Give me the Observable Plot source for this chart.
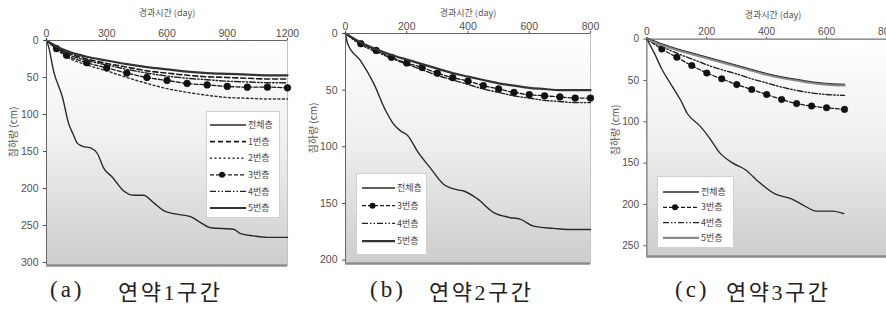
<!DOCTYPE html>
<html><head><meta charset="utf-8">
<script src="https://cdn.jsdelivr.net/npm/d3@7"></script>
<script src="https://cdn.jsdelivr.net/npm/@observablehq/plot@0.6"></script>
<style>
body{margin:0;background:#fff;}
#wrap{position:relative;width:886px;height:312px;overflow:hidden;font-family:"Noto Sans CJK KR","Liberation Sans",sans-serif;}
.panel{position:absolute;top:0;}
.xt{position:absolute;font-size:9px;color:#555;white-space:nowrap;transform:translate(-50%,-50%);}
.yt{position:absolute;font-size:10px;color:#555;white-space:nowrap;transform:translate(-50%,-50%) rotate(-90deg);}
.cap{position:absolute;top:290px;font-size:22px;color:#222;white-space:pre;transform:translateY(-50%);font-family:"Liberation Serif","DejaVu Serif","Noto Sans CJK KR",serif;}
.paren{letter-spacing:3px;font-size:23px;}
.kor{letter-spacing:2.5px;}
.leg{position:absolute;background:#fff;border:1px solid #d0d0d0;}
.leg svg{display:block;}
</style></head>
<body>
<svg width="0" height="0" style="position:absolute">
<defs>
<linearGradient id="bg" x1="0" y1="0" x2="0" y2="1">
<stop offset="0" stop-color="#ffffff"/><stop offset="0.45" stop-color="#f0f0f0"/><stop offset="1" stop-color="#cdcdcd"/>
</linearGradient>
</defs></svg>
<div id="wrap"></div>
<script>
// ---------- Data ----------
const xLabel = "경과시간 (day)";
const yLabel = "침하량 (cm)";
const capParens = ["(a)", "(b)", "(c)"];
const capNames = ["연약1구간", "연약2구간", "연약3구간"];

// Panel (a) 연약1구간
const ticksXA = [0, 300, 600, 900, 1200];
const ticksYA = [0, 50, 100, 150, 200, 250, 300];
const daysTotA = [0,10,35,80,110,130,154,180,219,254,284,329,383,433,483,533,583,632,717,767,817,931,966,1031,1100,1200];
const totA     = [0,8,41,77,112,125,139,143,145,153,172,185,203,209,209,219,230,234,238,246,253,255,261,264,266,266];
const daysA = [0,50,100,200,300,400,500,600,700,800,900,1000,1100,1200];
const a1 = [0,9,16,25,31,36,41,44,47,49,50,51,52,52];
const a2 = [0,12,22,33,41,50,58,65,70,74,77,78,79,79];
const a3 = [0,11,20,30,37,44,50,54,58,60,62,63,63,64];
const a4 = [0,10,18,27,33,39,44,48,51,53,55,56,57,57];
const a5 = [0,8,14,22,27,32,36,39,42,44,45,46,47,47];

// Panel (b) 연약2구간
const ticksXB = [0, 200, 400, 600, 800];
const ticksYB = [0, 50, 100, 150, 200];
const daysTotB = [0,7,49,92,131,157,180,203,235,278,320,366,386,431,484,529,572,614,680,725,800];
const totB     = [0,9,24,44,68,80,86,90,104,119,133,138,139,146,158,162,164,170,172,173,173];
const daysB = [0,50,100,150,200,250,300,350,400,450,500,550,600,650,700,750,800];
const b3 = [0,9,15,21,26,30,35,39,42,46,49,52,54,55,56,57,57];
const b4 = [0,10,16,22,27,32,37,41,45,49,52,55,57,59,60,61,61];
const b5 = [0,8,14,19,23,27,31,35,38,41,44,46,48,49,50,50,50];

// Panel (c) 연약3구간
const ticksXC = [0, 200, 400, 600, 800];
const ticksYC = [0, 50, 100, 150, 200, 250];
const daysTotC = [0,29,48,81,113,135,177,210,242,287,329,371,426,481,523,565,619,658];
const totC     = [0,20,35,55,74,90,105,120,137,150,158,172,187,193,201,208,208,211];
const daysC = [0,50,100,150,200,250,300,350,400,450,500,550,600,660];
const c3 = [0,12,22,32,41,48,55,61,67,73,78,81,83,85];
const c4 = [0,9,17,24,31,37,42,48,53,58,62,65,67,68];
const c5 = [0,7,13,18,23,28,33,38,43,47,50,53,55,56];

// ---------- Styles per layer ----------
const styles = {
  "전체층": {stroke:"#2a2a2a", strokeWidth:1.4, dash:null},
  "1번층": {stroke:"#1a1a1a", strokeWidth:1.6, dash:"5,3"},
  "2번층": {stroke:"#333", strokeWidth:1.4, dash:"2,2.5"},
  "3번층": {stroke:"#1a1a1a", strokeWidth:1.3, dash:"4,2", marker:true},
  "4번층": {stroke:"#222", strokeWidth:1.4, dash:"6,2,1.5,2,1.5,2"},
  "5번층": {stroke:"#333", strokeWidth:2.2, dash:null}
};

const zip = (xs, ys, layer) => xs.map((x, i) => ({x, y: ys[i], layer}));

function layerMarks(rows, layer, styleOverride) {
  const s = Object.assign({}, styles[layer], styleOverride || {});
  const m = [Plot.line(rows, {x:"x", y:"y", stroke:s.stroke, strokeWidth:s.strokeWidth, strokeDasharray:s.dash || undefined, curve:"monotone-x"})];
  if (s.marker) m.push(Plot.dot(rows.slice(1), {x:"x", y:"y", r:3.4, fill:"#111", stroke:"#111", strokeWidth:0.5}));
  return m;
}

function makePanel(opt) {
  const marks = [
    Plot.frame({fill:"url(#bg)", stroke:"#c4c4c4"}),
    ...opt.layers.flatMap(l => layerMarks(l.rows, l.layer, l.style)),
    Plot.ruleX([0], {stroke:"#666", strokeWidth:1}),
    Plot.ruleY([0], {stroke:"#666", strokeWidth:1}),
    Plot.ruleY([opt.yDom[1]], {stroke:"#8c8c8c", strokeWidth:2.5})
  ];
  const svg = Plot.plot({
    width: opt.W, height: opt.H,
    marginLeft: opt.mL, marginRight: opt.mR, marginTop: opt.mT, marginBottom: opt.mB,
    style: {background:"transparent", fontSize:"10.5px", color:"#505050", fontFamily:"'Liberation Sans', Arial, sans-serif", overflow:"visible"},
    x: {domain: opt.xDom, axis:"top", ticks: opt.xTicks, tickFormat: d3.format("d"), tickSize: 3, tickPadding: 1, label: null},
    y: {domain: opt.yDom, reverse: true, ticks: opt.yTicks, tickFormat: d3.format("d"), tickSize: 3, tickPadding: 5, label: null},
    marks
  });
  const d = document.createElement("div");
  d.className = "panel";
  d.style.left = opt.left + "px";
  d.appendChild(svg);
  return d;
}

function legend(opt) {
  const ns = "http://www.w3.org/2000/svg";
  const box = document.createElement("div");
  box.className = "leg";
  Object.assign(box.style, {left: opt.left+"px", top: opt.top+"px", width: opt.w+"px", height: opt.h+"px"});
  const svg = document.createElementNS(ns, "svg");
  svg.setAttribute("width", opt.w); svg.setAttribute("height", opt.h);
  opt.items.forEach((it, i) => {
    const y = opt.y0 + i * opt.dy;
    const s = Object.assign({}, styles[it.layer], it.style || {});
    const ln = document.createElementNS(ns, "line");
    ln.setAttribute("x1", opt.x0); ln.setAttribute("x2", opt.x1);
    ln.setAttribute("y1", y); ln.setAttribute("y2", y);
    ln.setAttribute("stroke", s.stroke); ln.setAttribute("stroke-width", s.strokeWidth);
    if (s.dash) ln.setAttribute("stroke-dasharray", s.dash);
    svg.appendChild(ln);
    if (s.marker) {
      const c = document.createElementNS(ns, "circle");
      c.setAttribute("cx", (opt.x0 + opt.x1) / 2 - 6); c.setAttribute("cy", y); c.setAttribute("r", 3);
      c.setAttribute("fill", "#111");
      svg.appendChild(c);
    }
    const t = document.createElementNS(ns, "text");
    t.setAttribute("x", opt.x1 + 2); t.setAttribute("y", y);
    t.setAttribute("dy", "0.35em");
    t.setAttribute("font-size", "9"); t.setAttribute("fill", "#444");
    t.setAttribute("font-family", "Noto Sans CJK KR");
    t.textContent = it.layer;
    svg.appendChild(t);
  });
  box.appendChild(svg);
  return box;
}

const wrap = document.getElementById("wrap");

function addText(cls, text, x, y) {
  const d = document.createElement("div");
  d.className = cls; d.textContent = text;
  d.style.left = x + "px"; d.style.top = y + "px";
  wrap.appendChild(d);
  return d;
}

// Panel a
wrap.appendChild(makePanel({
  left:0, W:295, H:268, mL:46, mR:8, mT:40, mB:3,
  xDom:[0,1200], yDom:[0,304], xTicks:ticksXA, yTicks:ticksYA,
  layers:[
    {rows:zip(daysA,a2,"2번층"), layer:"2번층"},
    {rows:zip(daysA,a3,"3번층"), layer:"3번층"},
    {rows:zip(daysA,a4,"4번층"), layer:"4번층"},
    {rows:zip(daysA,a1,"1번층"), layer:"1번층"},
    {rows:zip(daysA,a5,"5번층"), layer:"5번층"},
    {rows:zip(daysTotA,totA,"전체층"), layer:"전체층"}
  ]
}));
// Panel b
wrap.appendChild(makePanel({
  left:300, W:295, H:266, mL:45, mR:5, mT:33, mB:3,
  xDom:[0,800], yDom:[0,203], xTicks:ticksXB, yTicks:ticksYB,
  layers:[
    {rows:zip(daysB,b4,"4번층"), layer:"4번층"},
    {rows:zip(daysB,b3,"3번층"), layer:"3번층"},
    {rows:zip(daysB,b5,"5번층"), layer:"5번층"},
    {rows:zip(daysTotB,totB,"전체층"), layer:"전체층"}
  ]
}));
// Panel c
const c5style = {stroke:"#8a8a8a", strokeWidth:2.4};
wrap.appendChild(makePanel({
  left:600, W:296, H:268, mL:48, mR:0, mT:40, mB:3,
  xDom:[0,800], yDom:[0,263], xTicks:ticksXC, yTicks:ticksYC,
  layers:[
    {rows:zip(daysC,c3,"3번층"), layer:"3번층"},
    {rows:zip(daysC,c4,"4번층"), layer:"4번층"},
    {rows:zip(daysC,c5,"5번층"), layer:"5번층", style:c5style},
    {rows:zip(daysC,c5.map(v=>v-1.5),"5번층"), layer:"전체층", style:{strokeWidth:1}},
    {rows:zip(daysTotC,totC,"전체층"), layer:"전체층"}
  ]
}));

// Legends
wrap.appendChild(legend({left:206, top:111, w:72, h:105, x0:3, x1:39, y0:13, dy:16.6,
  items:["전체층","1번층","2번층","3번층","4번층","5번층"].map(l=>({layer:l}))}));
wrap.appendChild(legend({left:356, top:173, w:69, h:80, x0:5, x1:38, y0:14, dy:17.7,
  items:["전체층","3번층","4번층","5번층"].map(l=>({layer:l}))}));
wrap.appendChild(legend({left:657, top:176, w:75, h:70, x0:5, x1:41, y0:15, dy:15.3,
  items:[{layer:"전체층"},{layer:"3번층"},{layer:"4번층"},{layer:"5번층", style:c5style}]}));

// Axis titles
addText("xt", xLabel, 167, 12);
addText("xt", xLabel, 468, 12);
addText("xt", xLabel, 773, 14);
addText("yt", yLabel, 12, 132);
addText("yt", yLabel, 312, 128);
addText("yt", yLabel, 614, 130);

// Captions
const parenLeft = [50, 370, 675];
const nameLeft = [118, 429, 726];
capParens.forEach((p, i) => { addText("cap paren", p, parenLeft[i], 290); });
capNames.forEach((n, i) => { addText("cap kor", n, nameLeft[i], 290); });
</script>
</body></html>
